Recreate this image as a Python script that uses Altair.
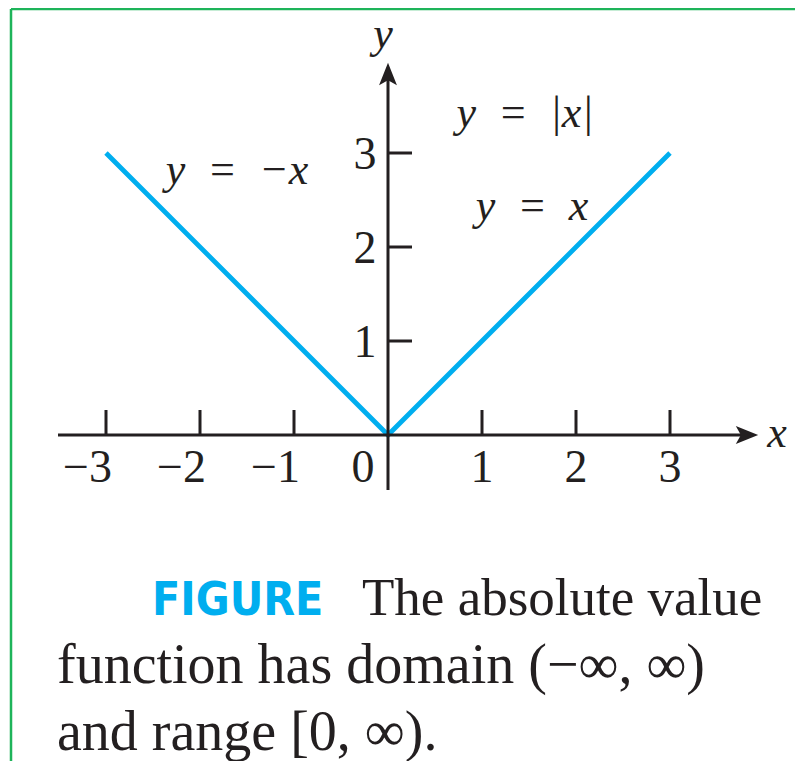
import altair as alt
import pandas as pd

# ---------------- data ----------------
line_x = [-3, 0, 3]
line_y = [3, 0, 3]

x_ticks = [-3, -2, -1, 1, 2, 3]
x_tick_labels = ["\u22123", "\u22122", "\u22121", "1", "2", "3"]
y_ticks = [1, 2, 3]
y_tick_labels = ["1", "2", "3"]

annotations = ["y\u2002=\u2002\u2212x", "y\u2002=\u2002x", "y\u2002=\u2002|x|"]
caption_title = "FIGURE"
caption_lines = ["The absolute value", "function has domain (\u2212\u221e, \u221e)", "and range [0, \u221e)."]

# ---------------- layout (pixel helpers) ----------------
W, H = 787, 753
PX = 94.0
X0, Y0 = 380, 427   # origin inside the chart, in pixels


def dx_(img_x):
    return (img_x - 8 - X0) / PX


def dy_(img_y):
    return (Y0 - (img_y - 8)) / PX


xdom = [-X0 / PX, (W - X0) / PX]
ydom = [-(H - Y0) / PX, Y0 / PX]
xs = alt.Scale(domain=xdom, nice=False, zero=False)
ys = alt.Scale(domain=ydom, nice=False, zero=False)

BLACK = "#231f20"
BLUE = "#00aeef"
GREEN = "#1eb45a"
SERIF = "Liberation Serif"


def X(f):
    return alt.X(f, type="quantitative", scale=xs, axis=None)


def Y(f):
    return alt.Y(f, type="quantitative", scale=ys, axis=None)


# border
border_df = pd.DataFrame([
    {"x": dx_(11), "x2": dx_(11), "y": dy_(9), "y2": ydom[0]},
    {"x": dx_(11), "x2": xdom[1], "y": dy_(9), "y2": dy_(9)},
])
border = alt.Chart(border_df).mark_rule(color=GREEN, strokeWidth=2.5).encode(
    x=X("x"), x2="x2", y=Y("y"), y2="y2")

# function line
fn_df = pd.DataFrame({"x": line_x, "y": line_y})
fn = alt.Chart(fn_df).mark_line(color=BLUE, strokeWidth=4.8, strokeJoin="miter").encode(
    x=X("x"), y=Y("y"), order="x:Q")

# axes + ticks
tick_len_x = 25 / PX
tick_len_y = 24 / PX
seg_rows = [
    {"x": dx_(58), "x2": dx_(745), "y": 0, "y2": 0},
    {"x": 0, "x2": 0, "y": dy_(490), "y2": dy_(76)},
]
for t in x_ticks:
    seg_rows.append({"x": t, "x2": t, "y": 0, "y2": tick_len_x})
for t in y_ticks:
    seg_rows.append({"x": 0, "x2": tick_len_y, "y": t, "y2": t})
axes = alt.Chart(pd.DataFrame(seg_rows)).mark_rule(color=BLACK, strokeWidth=3).encode(
    x=X("x"), x2="x2", y=Y("y"), y2="y2")

# arrow heads
arrow_right = alt.Chart(pd.DataFrame({"x": [dx_(747)], "y": [0]})).mark_point(
    shape="M-1,-0.8 L1,0 L-1,0.8 L-0.55,0 Z", filled=True, color=BLACK, opacity=1, size=500
).encode(x=X("x"), y=Y("y"))
arrow_up = alt.Chart(pd.DataFrame({"x": [0], "y": [dy_(74)]})).mark_point(
    shape="M-0.8,1 L0,-1 L0.8,1 L0,0.55 Z", filled=True, color=BLACK, opacity=1, size=500
).encode(x=X("x"), y=Y("y"))

# tick labels
lab_y = dy_(482)
xneg = alt.Chart(pd.DataFrame({"x": x_ticks[:3], "t": x_tick_labels[:3], "y": [lab_y] * 3})).mark_text(
    font=SERIF, fontSize=46, color=BLACK, align="right", baseline="alphabetic", dx=6
).encode(x=X("x"), y=Y("y"), text="t:N")
xpos = alt.Chart(pd.DataFrame({"x": x_ticks[3:], "t": x_tick_labels[3:], "y": [lab_y] * 3})).mark_text(
    font=SERIF, fontSize=46, color=BLACK, align="center", baseline="alphabetic"
).encode(x=X("x"), y=Y("y"), text="t:N")
zero = alt.Chart(pd.DataFrame({"x": [dx_(363)], "y": [lab_y], "t": ["0"]})).mark_text(
    font=SERIF, fontSize=46, color=BLACK, align="center", baseline="alphabetic"
).encode(x=X("x"), y=Y("y"), text="t:N")
ylabs = alt.Chart(pd.DataFrame({"y": y_ticks, "t": y_tick_labels, "x": [dx_(365)] * 3})).mark_text(
    font=SERIF, fontSize=46, color=BLACK, align="center", baseline="alphabetic", dy=16
).encode(x=X("x"), y=Y("y"), text="t:N")

# axis titles
titles = alt.Chart(pd.DataFrame({
    "x": [dx_(383), dx_(777)], "y": [dy_(48), dy_(447)], "t": ["y", "x"]})).mark_text(
    font=SERIF, fontSize=44, fontStyle="italic", color=BLACK, align="center", baseline="alphabetic"
).encode(x=X("x"), y=Y("y"), text="t:N")

# annotations
ann = alt.Chart(pd.DataFrame({
    "x": [dx_(237), dx_(532), dx_(525)],
    "y": [dy_(184), dy_(220), dy_(127)],
    "t": annotations})).mark_text(
    font=SERIF, fontSize=44, fontStyle="italic", color=BLACK, align="center", baseline="alphabetic"
).encode(x=X("x"), y=Y("y"), text="t:N")

# caption
fig_t = alt.Chart(pd.DataFrame({"x": [dx_(152)], "y": [dy_(615)], "t": [caption_title]})).mark_text(
    font="Liberation Sans Narrow, DejaVu Sans Condensed, Roboto, sans-serif", fontSize=46, fontWeight="bold",
    color=BLUE, align="left", baseline="alphabetic"
).encode(x=X("x"), y=Y("y"), text="t:N")
cap1 = alt.Chart(pd.DataFrame({"x": [dx_(362)], "y": [dy_(615)], "t": caption_lines[:1]})).mark_text(
    font=SERIF, fontSize=53, color=BLACK, align="left", baseline="alphabetic"
).encode(x=X("x"), y=Y("y"), text="t:N")
cap23 = alt.Chart(pd.DataFrame({
    "x": [dx_(57), dx_(57)],
    "y": [dy_(683), dy_(750)],
    "t": caption_lines[1:]})).mark_text(
    font=SERIF, fontSize=56, color=BLACK, align="left", baseline="alphabetic"
).encode(x=X("x"), y=Y("y"), text="t:N")

chart = alt.layer(
    border, fn, axes, arrow_right, arrow_up, xneg, xpos, zero, ylabs, titles, ann, fig_t, cap1, cap23
).properties(
    width=W, height=H, padding=0, autosize=alt.AutoSizeParams(type="none"), background="white"
).configure_view(stroke=None, clip=False)

chart.save("out.html", embed_options={"renderer": "svg", "actions": False})
